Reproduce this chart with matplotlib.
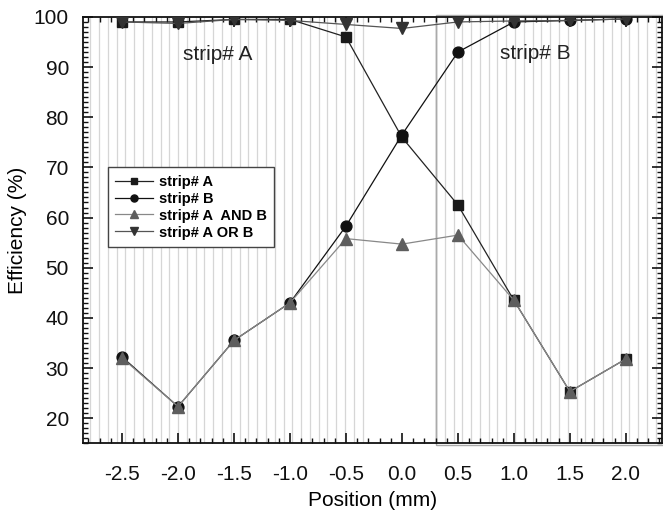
import numpy as np
import matplotlib.pyplot as plt
from matplotlib.ticker import MultipleLocator, FormatStrFormatter
from matplotlib.patches import Rectangle

plt.rcParams['font.family'] = ['Liberation Sans', 'DejaVu Sans']
plt.rcParams['axes.unicode_minus'] = False

# Data points
position = [-2.5, -2.0, -1.5, -1.0, -0.5, 0.0, 0.5, 1.0, 1.5, 2.0]
strip_a = [99.0, 99.0, 99.5, 99.5, 96.0, 76.0, 62.5, 43.5, 25.3, 31.8]
strip_b = [32.2, 22.3, 35.5, 43.0, 58.3, 76.5, 93.0, 99.0, 99.3, 99.6]
a_and_b = [32.0, 22.3, 35.5, 43.0, 55.8, 54.7, 56.5, 43.5, 25.3, 31.8]
a_or_b = [99.0, 98.7, 99.5, 99.3, 98.5, 97.7, 99.0, 99.2, 99.3, 99.6]

# strip pattern (gray lines) and the edge between strips
pitch = 0.0785
left_last = -0.351
edge = 0.304

fig, ax = plt.subplots(figsize=(6.63, 5.13), dpi=100)
fig.subplots_adjust(left=0.125, right=0.998, top=0.967, bottom=0.136)

ax.set_xlim(-2.85, 2.32)
ax.set_ylim(15, 100)

# strip lines
for x in np.arange(left_last, -2.85, -pitch):
    ax.axvline(x, color='#d6d6d6', lw=0.9, zorder=0)
for x in np.arange(edge + pitch, 2.32, pitch):
    ax.axvline(x, color='#d6d6d6', lw=0.9, zorder=0)
ax.axvline(edge, color='#888888', lw=1.0, zorder=0)
ax.add_patch(Rectangle((edge, 14.7), 2.1, 85.6, fill=False, edgecolor='#aaaaaa',
                       lw=1.0, clip_on=False, zorder=0))

ax.plot(position, strip_a, color='#222222', lw=0.9, marker='s', ms=7,
        mfc='#1a1a1a', mec='#1a1a1a', label='strip# A', zorder=3)
ax.plot(position, strip_b, color='#111111', lw=0.9, marker='o', ms=7.8,
        mfc='#111111', mec='#111111', label='strip# B', zorder=3)
ax.plot(position, a_and_b, color='#888888', lw=0.9, marker='^', ms=8.5,
        mfc='#5e5e5e', mec='#5e5e5e', label='strip# A  AND B', zorder=4)
ax.plot(position, a_or_b, color='#555555', lw=0.9, marker='v', ms=8.5,
        mfc='#333333', mec='#333333', label='strip# A OR B', zorder=4)

ax.text(-1.65, 92.6, 'strip# A', fontsize=15, ha='center', va='center', color='#222222')
ax.text(1.19, 92.8, 'strip# B', fontsize=15, ha='center', va='center', color='#222222')

ax.xaxis.set_major_locator(MultipleLocator(0.5))
ax.xaxis.set_minor_locator(MultipleLocator(0.1))
ax.xaxis.set_major_formatter(FormatStrFormatter('%.1f'))
ax.yaxis.set_major_locator(MultipleLocator(10))
ax.yaxis.set_minor_locator(MultipleLocator(1))
ax.set_xticks(position)
ax.tick_params(which='both', direction='in', top=True, right=True, labelsize=15, colors='#111111')
ax.tick_params(which='major', length=7, width=1.2)
ax.tick_params(which='minor', length=3.5, width=1.0)
ax.tick_params(axis='x', which='major', pad=16)
ax.tick_params(axis='y', which='major', pad=10)
for s in ax.spines.values():
    s.set_linewidth(1.3)
    s.set_color('#111111')

ax.set_xlabel('Position (mm)', fontsize=15, labelpad=5)
ax.set_ylabel('Efficiency (%)', fontsize=15, labelpad=5)

leg = ax.legend(loc='upper left', bbox_to_anchor=(0.031, 0.664), fancybox=False,
                framealpha=1, edgecolor='#444444', prop={'weight': 'bold', 'size': 10.5},
                handlelength=2.6, handletextpad=0.4, labelspacing=0.2,
                borderpad=0.5, markerscale=0.65)
leg.get_frame().set_linewidth(1.0)

plt.savefig('out.png')
